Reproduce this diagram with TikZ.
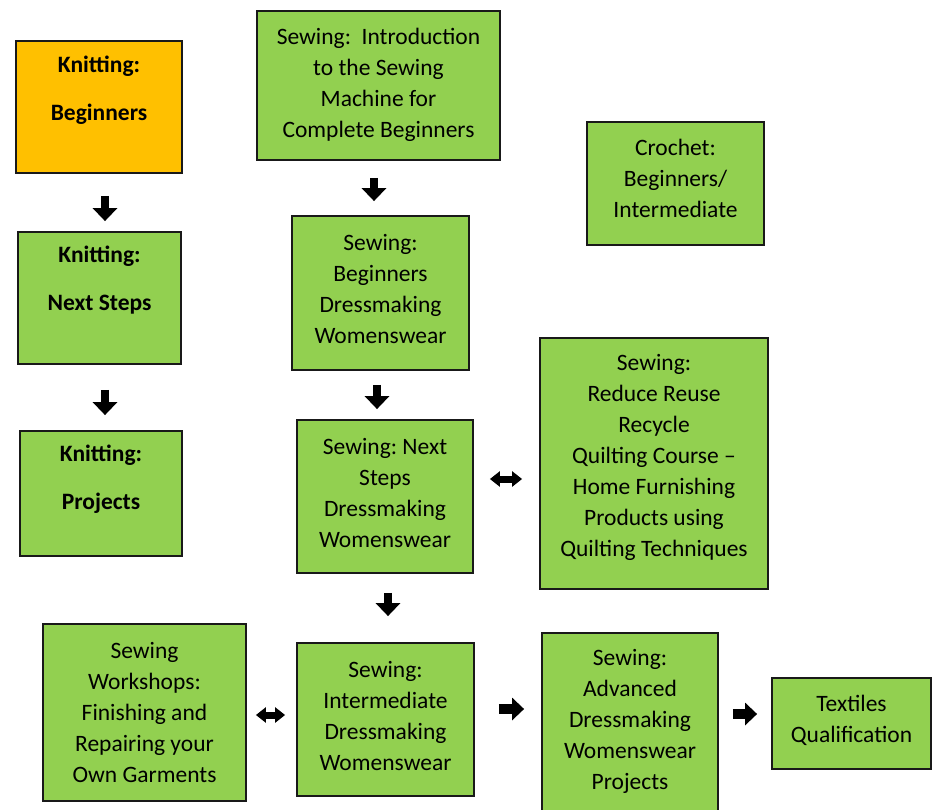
\documentclass[tikz,border=0pt]{standalone}
\usepackage{fontspec}
\setmainfont{Carlito}
\usetikzlibrary{arrows.meta,calc}
\definecolor{boxgreen}{HTML}{92D050}
\definecolor{boxorange}{HTML}{FFC000}
\frenchspacing
\begin{document}
\begin{tikzpicture}[x=1pt,y=-1pt,
  box/.style={draw=black!90,line width=1.8pt,fill=boxgreen,inner sep=0pt},
  txt/.style={align=center,font=\fontsize{23.5}{31}\selectfont,inner sep=0pt},
  btxt/.style={align=center,font=\bfseries\fontsize{23.5}{31}\selectfont,inner sep=0pt},
  downarr/.style={line width=8pt,black,-{Triangle[length=13pt,width=24pt]}},
  rightarr/.style={line width=10pt,black,-{Triangle[length=12pt,width=22pt]}},
  duoarr/.style={line width=7pt,black,{Triangle[length=10pt,width=15pt]}-{Triangle[length=10pt,width=15pt]}}]
\useasboundingbox (0,0) rectangle (933,809);
\clip (0,0) rectangle (933,809);
% knitting column
\node[box,fill=boxorange,minimum width=166pt,minimum height=132pt,
  label={[btxt,yshift=17pt]center:Knitting:\\[17pt]Beginners}] (kb) at (99,107) {};
\node[box,minimum width=163pt,minimum height=132pt,
  label={[btxt,yshift=17.5pt]center:Knitting:\\[17pt]Next Steps}] (kn) at (99.5,298) {};
\node[box,minimum width=162pt,minimum height=125pt,
  label={[btxt,yshift=14.5pt]center:Knitting:\\[17pt]Projects}] (kp) at (101,493.5) {};
% sewing column
\node[box,minimum width=243pt,minimum height=149pt,
  label={[txt,yshift=1pt]center:Sewing:\ \ Introduction\\to the Sewing\\Machine for\\Complete Beginners}] (intro) at (378.5,85.5) {};
\node[box,minimum width=177pt,minimum height=154pt,
  label={[txt,yshift=4pt]center:Sewing:\\Beginners\\Dressmaking\\Womenswear}] (bd) at (380.5,293) {};
\node[box,minimum width=176pt,minimum height=153pt,
  label={[txt,yshift=3.5pt]center:Sewing: Next\\Steps\\Dressmaking\\Womenswear}] (ns) at (385,496.5) {};
\node[box,minimum width=177pt,minimum height=153pt,
  label={[txt,yshift=4pt]center:Sewing:\\Intermediate\\Dressmaking\\Womenswear}] (im) at (385.5,719.5) {};
% right side
\node[box,minimum width=177pt,minimum height=123pt,
  label={[txt,yshift=5pt]center:Crochet:\\Beginners/\\Intermediate}] (cr) at (675.5,183.5) {};
\node[box,minimum width=228pt,minimum height=251pt,
  label={[txt,yshift=6pt]center:Sewing:\\Reduce Reuse\\Recycle\\Quilting Course --\\Home Furnishing\\Products using\\Quilting Techniques}] (rr) at (654,463.5) {};
\node[box,minimum width=203pt,minimum height=177pt,
  label={[txt,yshift=0.5pt]center:Sewing\\Workshops:\\Finishing and\\Repairing your\\Own Garments}] (ws) at (144.5,712.5) {};
\node[box,minimum width=176pt,minimum height=184pt,
  label={[txt,yshift=4pt]center:Sewing:\\Advanced\\Dressmaking\\Womenswear\\Projects}] (adv) at (630,725) {};
\node[box,minimum width=159pt,minimum height=91pt,
  label={[txt,yshift=3.5pt]center:Textiles\\Qualification}] (tq) at (851.5,723.5) {};
% arrows
\draw[downarr] ($(kb.south)+(6,22)$) -- ($(kn.north)+(5.5,-10)$);
\draw[downarr] ($(kn.south)+(5.5,25)$) -- ($(kp.north)+(4,-15)$);
\draw[downarr] ($(intro.south)+(-4.5,17)$) -- ($(bd.north)+(-6.5,-14)$);
\draw[downarr] ($(bd.south)+(-3.5,14)$) -- ($(ns.north)+(-8,-10)$);
\draw[downarr] ($(ns.south)+(3,19)$) -- ($(im.north)+(2.5,-26)$);
\draw[duoarr] ($(ns.east)+(16,-17.5)$) -- ($(rr.west)+(-17,15.5)$);
\draw[duoarr] ($(ws.east)+(9,2.5)$) -- ($(im.west)+(-11,-4.5)$);
\draw[rightarr] ($(im.east)+(24,-10.5)$) -- ($(adv.west)+(-17,-16)$);
\draw[rightarr] ($(adv.east)+(14,-11)$) -- ($(tq.west)+(-14,-9.5)$);
\end{tikzpicture}
\end{document}
